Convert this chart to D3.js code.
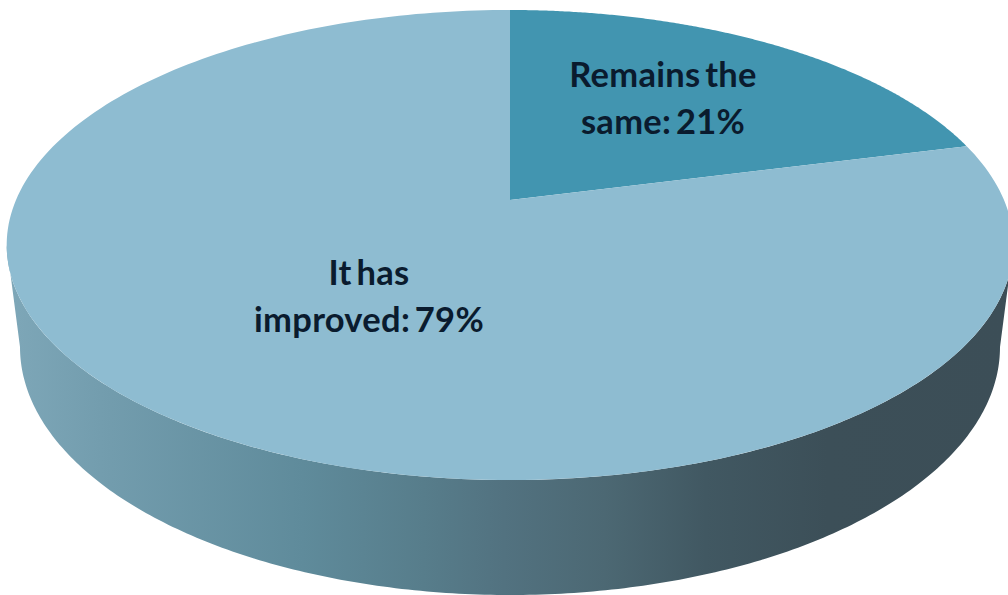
<!DOCTYPE html>
<html><head><meta charset="utf-8">
<script src="https://cdn.jsdelivr.net/npm/d3@7/dist/d3.min.js"></script>
<style>html,body{margin:0;padding:0;background:#fff;overflow:hidden}svg{display:block}</style>
</head><body><svg id="c" width="1008" height="595"></svg>
<script>
const categories = ["Remains the same", "It has improved"];
const values = [21, 79];
const labelLines = [["Remains the", "same: 21%"], ["It has", "improved: 79%"]];

const colors = ["#4295b0", "#8ebcd1"];
const labelAnchors = [[663, 87], [369, 285]];
const svg = d3.select("#c");

// Perspective view of the unit disc
const K = 0.1915;
const X = d3.scaleLinear().domain([-1, 1]).range([510 - 494, 510 + 494]);
const Y = d3.scaleLinear().domain([-1, 1]).range([200 + 226.4, 200 - 226.4]);
const proj = a => {
  const u = Math.sin(a), v = Math.cos(a), w = 1 + K * v;
  return [X(u / w), Y(v / w)];
};
const sweep = (a0, a1, n = 240) => d3.range(n + 1).map(i => a0 + (a1 - a0) * i / n);
const line = d3.line();

const slices = d3.pie().sort(null).value(d => d)(values);

// side wall: lower rim of top face + lower rim of base ellipse
const baseX = d3.scaleLinear().domain([-1, 1]).range([20, 1000]);
const baseY = d3.scaleLinear().domain([-1, 1]).range([347 + 248, 347 - 248]);
const defs = svg.append("defs");
const grad = defs.append("linearGradient").attr("id", "wall")
  .attr("gradientUnits", "userSpaceOnUse").attr("x1", 0).attr("x2", 1008).attr("y1", 0).attr("y2", 0);
[[0, "#7fa8b9"], [0.1, "#739dae"], [0.3, "#5f8b9b"], [0.42, "#577d8b"], [0.5, "#527280"],
 [0.6, "#4c6873"], [0.7, "#415862"], [0.82, "#3c4f58"], [1, "#3c4e57"]]
  .forEach(([o, c]) => grad.append("stop").attr("offset", o).attr("stop-color", c));

// extreme-right / extreme-left angles of the projected rim
const aRight = Math.PI - Math.acos(K), aLeft = Math.PI + Math.acos(K);
const topRim = sweep(aRight, aLeft).map(proj);
const baseRim = sweep(Math.PI * 1.5, Math.PI / 2).map(a => [baseX(Math.sin(a)), baseY(Math.cos(a))]);
svg.append("path").attr("d", line(topRim.concat(baseRim)) + "Z").attr("fill", "url(#wall)");

// top face
svg.selectAll("path.slice").data(slices).join("path").attr("class", "slice")
  .attr("d", d => {
    const pts = sweep(d.startAngle, d.endAngle).map(proj);
    return line([[X(0), Y(0)]].concat(pts)) + "Z";
  })
  .attr("fill", (d, i) => colors[i]);

// labels
const lab = svg.selectAll("text").data(labelLines).join("text")
  .attr("text-anchor", "middle")
  .attr("font-family", "Lato, 'Open Sans', sans-serif")
  .attr("font-weight", 700).attr("font-size", 34.5).attr("fill", "#0a1b2e")
  .attr("letter-spacing", 0.3).attr("word-spacing", -4);
lab.each(function (lines, i) {
  d3.select(this).selectAll("tspan").data(lines).join("tspan")
    .attr("x", labelAnchors[i][0])
    .attr("y", (l, j) => labelAnchors[i][1] + j * 46.5)
    .text(l => l);
});
</script></body></html>
